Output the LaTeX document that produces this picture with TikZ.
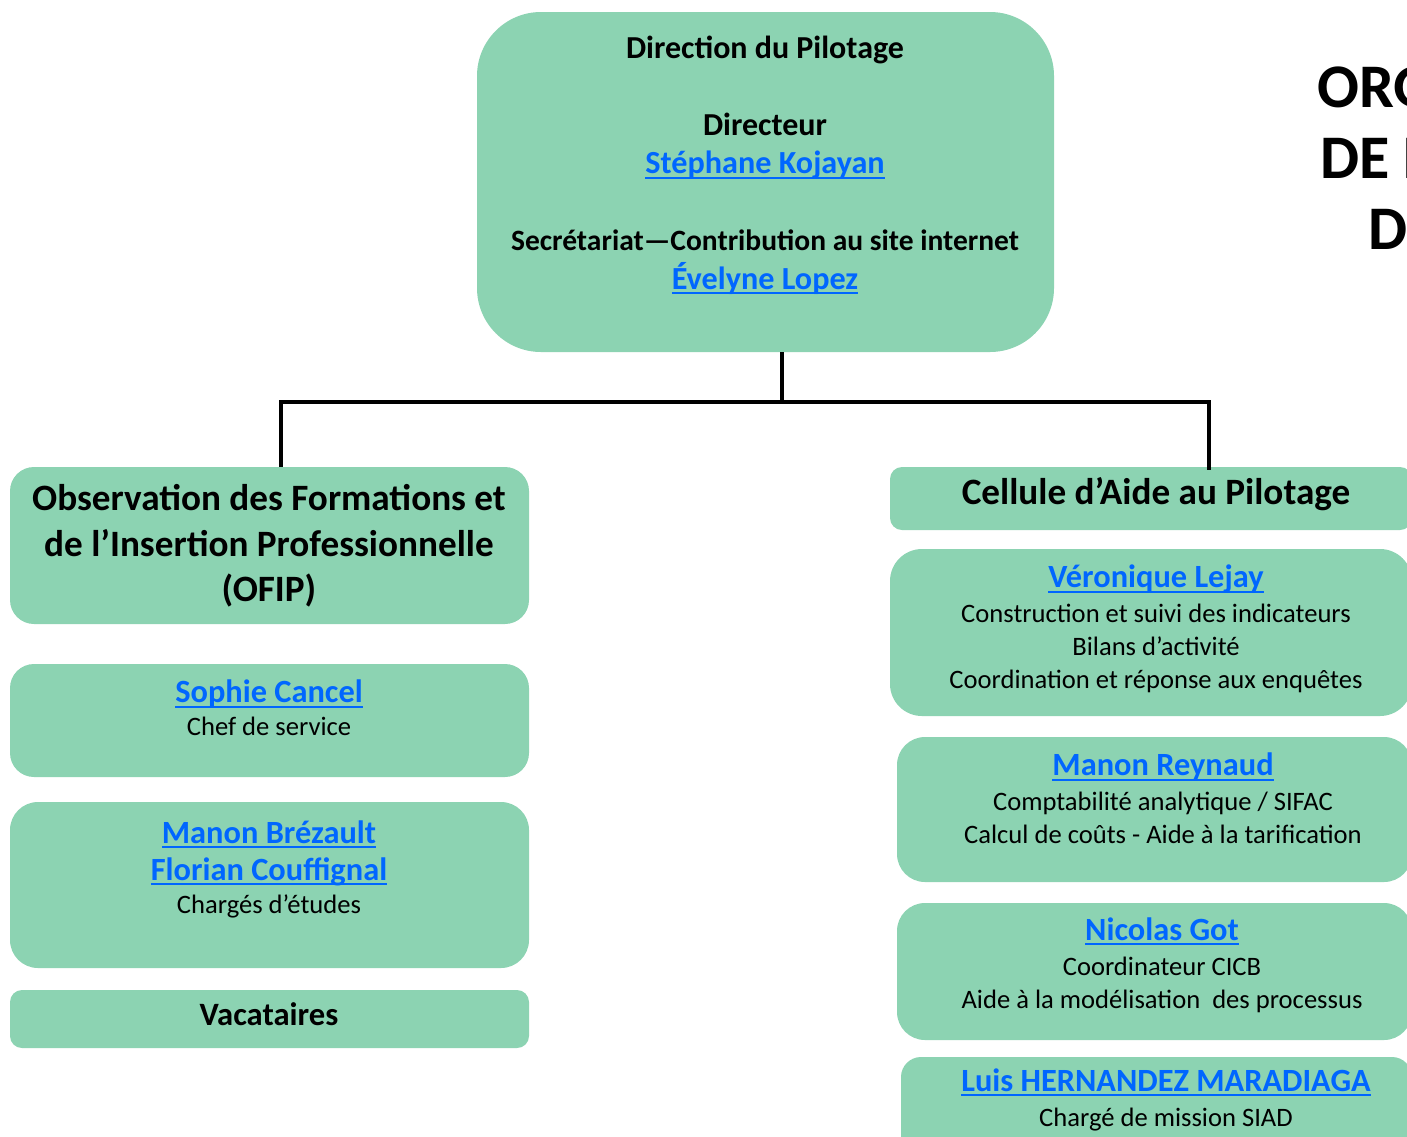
\documentclass[tikz,border=0pt]{standalone}
\usepackage{fontspec}
\setmainfont{Carlito}
\usepackage{xcolor}
\definecolor{vert}{RGB}{140,211,178}
\definecolor{lien}{RGB}{0,102,255}
\newcommand{\nomlien}[1]{\textcolor{lien}{\setbox0\hbox{#1}\rlap{\rule[-2.6pt]{\wd0}{1.1pt}}\box0}}
\newcommand{\nom}[1]{{\fontsize{16.2}{18}\selectfont\bfseries\nomlien{#1}}}

\begin{document}
\begin{tikzpicture}[x=0.5pt,y=-0.5pt,
  boite/.style={fill=vert,inner sep=0pt,rounded corners=#1},
  texte/.style={align=center,inner sep=0pt,font=\fontsize{13.3}{16.5}\selectfont},
  trait/.style={line width=2pt,line join=miter}]
\useasboundingbox (0,0) rectangle (1407,1136);
\clip (0,0) rectangle (1407,1136);
\node[boite=32pt,minimum width=288.5pt,minimum height=170pt] (dir) at (765.5,182) {};
\node[boite=12pt,minimum width=259.5pt,minimum height=78.5pt] (ofip) at (269.5,545.5) {};
\node[boite=12pt,minimum width=259.5pt,minimum height=56.5pt] (sophie) at (269.5,720.5) {};
\node[boite=14pt,minimum width=259.5pt,minimum height=83pt] (brezault) at (269.5,885) {};
\node[boite=6pt,minimum width=259.5pt,minimum height=29pt] (vacataires) at (269.5,1019) {};
\node[boite=6pt,minimum width=261pt,minimum height=31.5pt] (cap) at (1151,498.5) {};
\node[boite=16pt,minimum width=261pt,minimum height=83.5pt] (lejay) at (1151,632.5) {};
\node[boite=14pt,minimum width=257.5pt,minimum height=72.5pt] (reynaud) at (1154.5,809.5) {};
\node[boite=14pt,minimum width=257.5pt,minimum height=68.5pt] (got) at (1154.5,971.5) {};
\node[boite=10pt,minimum width=255.5pt,minimum height=51.5pt] (hernandez) at (1156.5,1108.5) {};
\coordinate (barre) at (782,402);
\coordinate (bg) at (281,402);
\coordinate (bd) at (1209,402);
\draw[trait] (dir.south -| barre) -- (barre);
\draw[trait] (ofip.north -| bg) -- (bg) -- (bd) -- ([yshift=-1.5pt]cap.north -| bd);
\node[texte,font=\fontsize{16}{19.25}\selectfont\bfseries] (tdir) at (765,165) {Direction du Pilotage\\[19.25pt]
  Directeur\\{\fontsize{16.1}{19.25}\selectfont\nomlien{Stéphane Kojayan}}\\[19.25pt]
  {\fontsize{14.75}{19.25}\selectfont Secrétariat—Contribution au site internet}\\{\fontsize{16.1}{19.25}\selectfont\nomlien{Évelyne Lopez}}};
\node[texte,font=\fontsize{18.6}{22.75}\selectfont\bfseries] (tofip) at (269,546) {Observation des Formations et\\de l’Insertion Professionnelle\\(OFIP)};
\node[texte] (tsophie) at (269,708) {\nom{Sophie Cancel}\\Chef de service};
\node[texte] (tbrezault) at (269,869) {\nom{Manon Brézault}\\[2pt]\nom{Florian Couffignal}\\Chargés d’études};
\node[texte,font=\fontsize{16.3}{18}\selectfont\bfseries] (tvacataires) at (269,1014) {Vacataires};
\node[texte,font=\fontsize{18.6}{20}\selectfont\bfseries] (tcap) at (1156,494) {Cellule d’Aide au Pilotage};
\node[texte] (tlejay) at (1156,629) {\nom{Véronique Lejay}\\[1pt]Construction et suivi des indicateurs\\Bilans d’activité\\Coordination et réponse aux enquêtes};
\node[texte] (treynaud) at (1163,798.5) {\nom{Manon Reynaud}\\[1pt]Comptabilité analytique / SIFAC\\Calcul de coûts - Aide à la tarification};
\node[texte] (tgot) at (1162,965) {\nom{Nicolas Got}\\[1pt]Coordinateur CICB\\Aide à la modélisation\ \ des processus};
\node[texte] (thernandez) at (1166,1099.5) {\nom{Luis HERNANDEZ MARADIAGA}\\[1pt]Chargé de mission SIAD};
\node[anchor=west,inner sep=0pt,font=\fontsize{31}{35}\selectfont\bfseries] (titre1) at (1317,87) {ORGA};
\node[anchor=west,inner sep=0pt,font=\fontsize{31}{35}\selectfont\bfseries] (titre2) at (1320,158) {DE L};
\node[anchor=west,inner sep=0pt,font=\fontsize{31}{35}\selectfont\bfseries] (titre3) at (1368,230) {DU};
\end{tikzpicture}
\end{document}
